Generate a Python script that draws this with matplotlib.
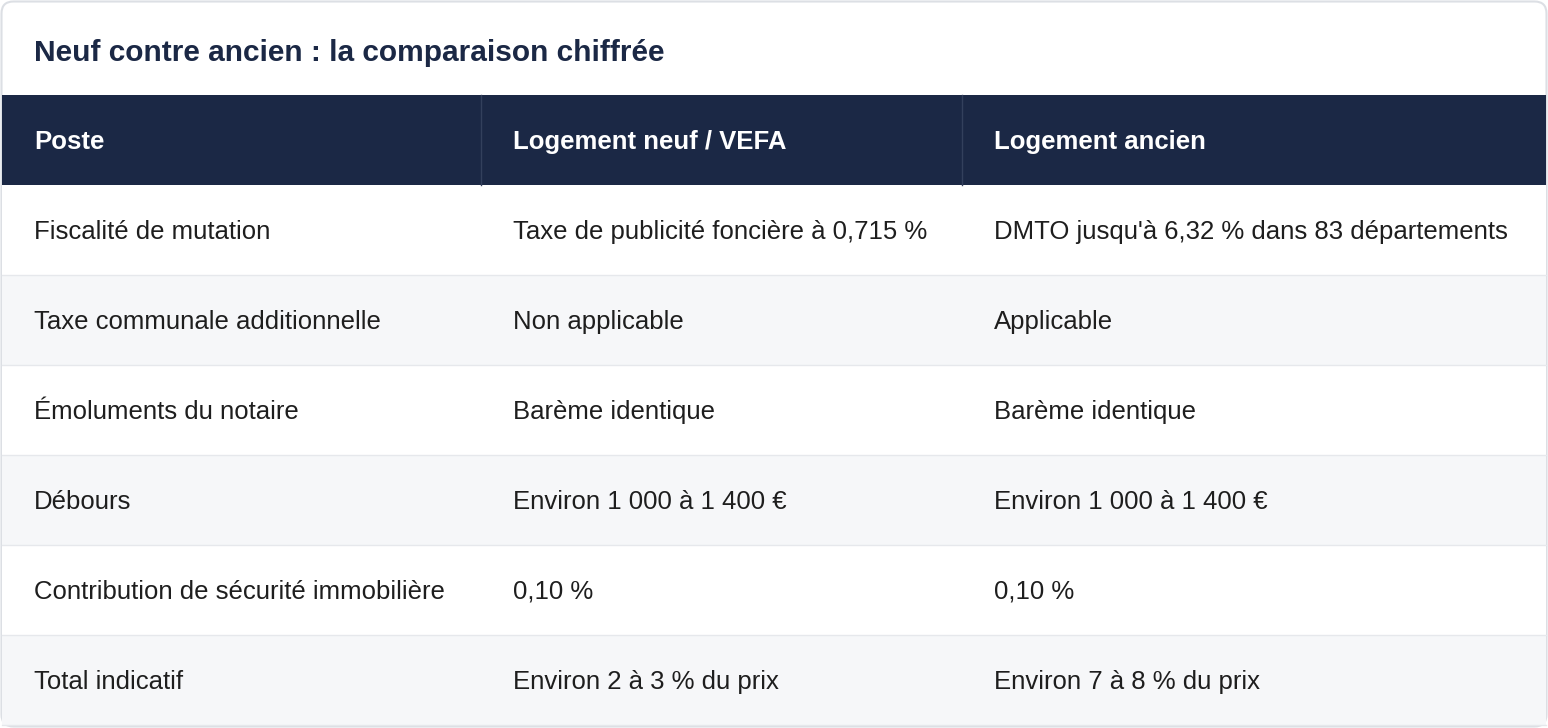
import matplotlib.pyplot as plt
from matplotlib.patches import Rectangle, FancyBboxPatch

plt.rcParams['font.family'] = ['Liberation Sans', 'DejaVu Sans']

title = "Neuf contre ancien : la comparaison chiffrée"
headers = ["Poste", "Logement neuf / VEFA", "Logement ancien"]
postes = ["Fiscalité de mutation", "Taxe communale additionnelle", "Émoluments du notaire",
          "Débours", "Contribution de sécurité immobilière", "Total indicatif"]
neuf = ["Taxe de publicité foncière à 0,715 %", "Non applicable", "Barème identique",
        "Environ 1 000 à 1 400 €", "0,10 %", "Environ 2 à 3 % du prix"]
ancien = ["DMTO jusqu'à 6,32 % dans 83 départements", "Applicable", "Barème identique",
          "Environ 1 000 à 1 400 €", "0,10 %", "Environ 7 à 8 % du prix"]

W, H = 1548, 728
navy = "#1b2845"
col_x = [2, 481, 962, 1546]
pad = 32
head_top, head_h, row_h = 95, 90, 90

fig = plt.figure(figsize=(W / 100, H / 100), dpi=100)
ax = fig.add_axes([0, 0, 1, 1])
ax.set_xlim(0, W)
ax.set_ylim(H, 0)
ax.axis("off")

ax.add_patch(FancyBboxPatch((1.5, 1.5), W - 3, H - 3, boxstyle="round,pad=0,rounding_size=12",
                            fc="white", ec="#dcdfe4", lw=1.5))
ax.text(34, 53, title, fontsize=21.5, fontweight="bold", color=navy, va="center")

ax.add_patch(Rectangle((col_x[0], head_top), col_x[-1] - col_x[0], head_h, fc=navy, ec="none"))
for i, h in enumerate(headers):
    ax.text(col_x[i] + pad, head_top + head_h / 2 + 2, h, fontsize=18.5, fontweight="bold",
            color="white", va="center")
    if i > 0:
        ax.plot([col_x[i], col_x[i]], [head_top, head_top + head_h], color="#33405c", lw=1)

for r, cells in enumerate(zip(postes, neuf, ancien)):
    y0 = head_top + head_h + r * row_h
    fc = "white" if r % 2 == 0 else "#f6f7f9"
    ax.add_patch(Rectangle((col_x[0], y0), col_x[-1] - col_x[0], row_h, fc=fc, ec="none"))
    ax.plot([col_x[0], col_x[-1]], [y0 + row_h, y0 + row_h], color="#e6e8ec", lw=1)
    for i, c in enumerate(cells):
        ax.text(col_x[i] + pad, y0 + row_h / 2 + 2, c, fontsize=18.5, color="#1e1e1e", va="center")

fig.savefig("out.png", dpi=100)
